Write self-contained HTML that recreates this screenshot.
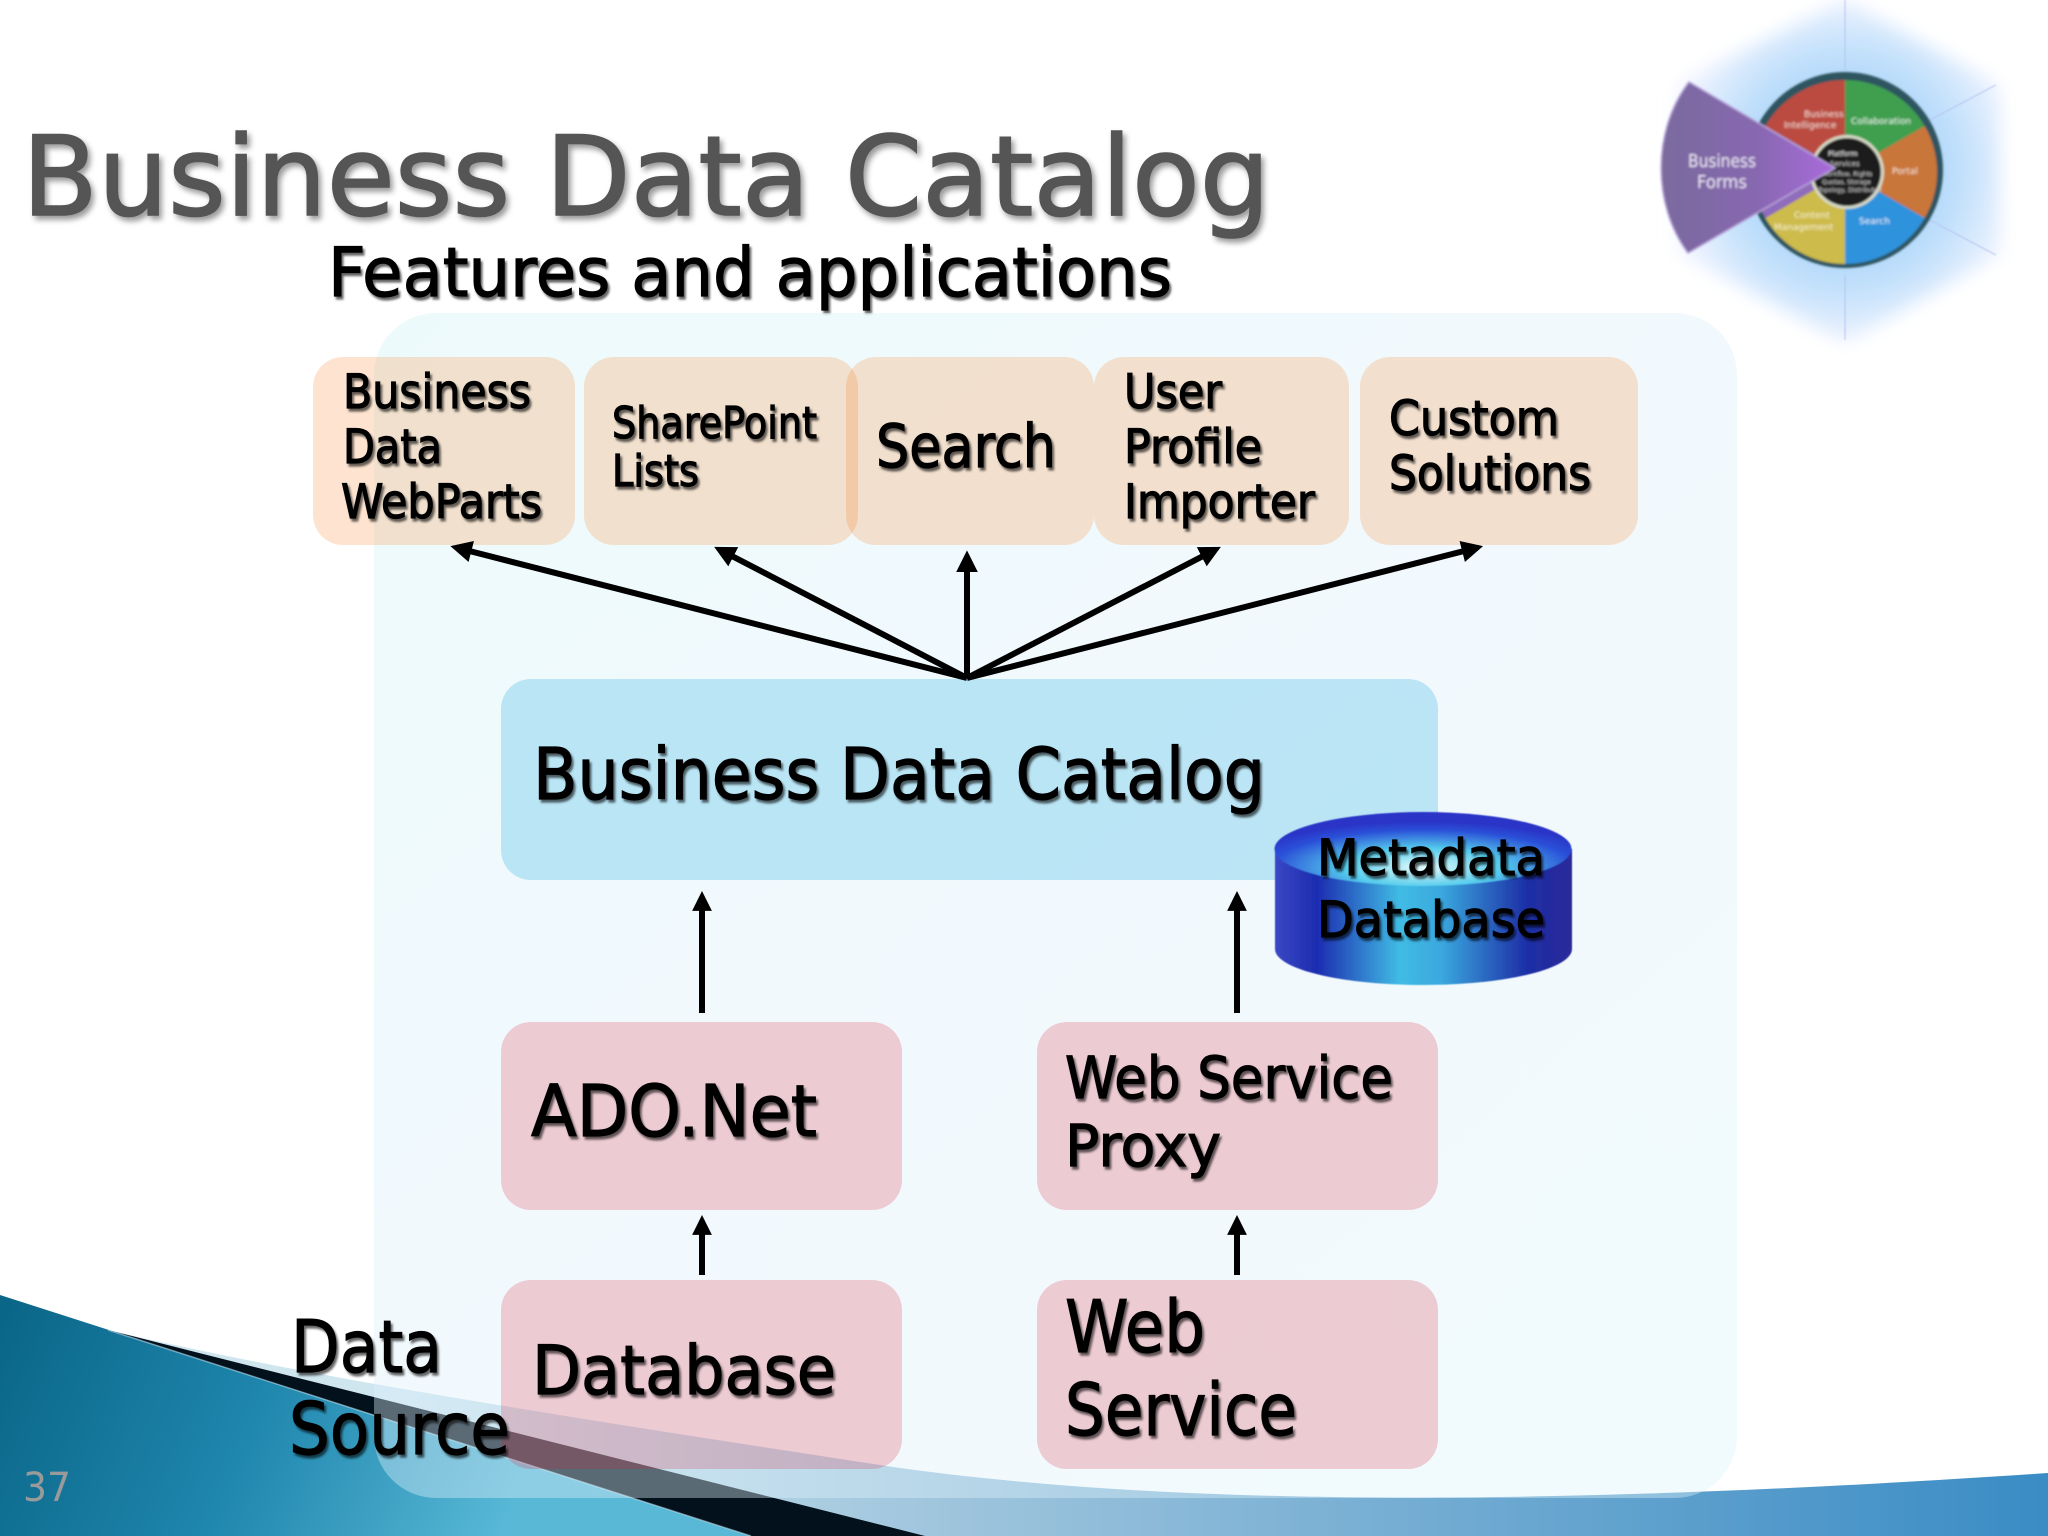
<!DOCTYPE html>
<html><head><meta charset="utf-8"><title>Business Data Catalog</title>
<style>
html,body{margin:0;padding:0;background:#fff;width:2048px;height:1536px;overflow:hidden}
svg{display:block}
text{font-family:"DejaVu Sans","Liberation Sans",sans-serif}
.t text{fill:#000;stroke:#000;stroke-width:1.2}
.t{filter:drop-shadow(2px 3px 1px rgba(0,0,0,.6))}
</style></head><body>
<svg width="2048" height="1536" viewBox="0 0 2048 1536" xmlns="http://www.w3.org/2000/svg">
<defs>
<linearGradient id="teal" gradientUnits="userSpaceOnUse" x1="0" y1="1320" x2="500" y2="1536"><stop offset="0" stop-color="#0a6688"/><stop offset=".5" stop-color="#1f86ad"/><stop offset="1" stop-color="#58b8d6"/></linearGradient>
<linearGradient id="sw" gradientUnits="userSpaceOnUse" x1="400" y1="0" x2="2048" y2="0"><stop offset="0" stop-color="#cfe6ef"/><stop offset=".35" stop-color="#9cc3dc"/><stop offset="1" stop-color="#3a8cc5"/></linearGradient>
<linearGradient id="panel" x1="0" y1="0" x2="1" y2="1"><stop offset="0" stop-color="#d2f2f7"/><stop offset=".5" stop-color="#def0fb"/><stop offset="1" stop-color="#dcf2f8"/></linearGradient>
<linearGradient id="cyl" x1="0" y1="0" x2="1" y2="0"><stop offset="0" stop-color="#3a48c4"/><stop offset=".14" stop-color="#1c2cb0"/><stop offset=".42" stop-color="#40bce4"/><stop offset=".56" stop-color="#3aa8de"/><stop offset=".85" stop-color="#1d2ea6"/><stop offset="1" stop-color="#2a2a98"/></linearGradient>
<radialGradient id="cyt" cx=".5" cy=".75" r=".62"><stop offset="0" stop-color="#e6fbfc"/><stop offset=".42" stop-color="#55ccec"/><stop offset=".82" stop-color="#2a50d8"/><stop offset="1" stop-color="#2a35c8"/></radialGradient>
<radialGradient id="glow" gradientUnits="userSpaceOnUse" cx="1845" cy="170" r="185"><stop offset="0" stop-color="#8fcbfa"/><stop offset=".6" stop-color="#bddefb"/><stop offset="1" stop-color="#f6f6ff"/></radialGradient>
<linearGradient id="pur" x1="0" y1="0" x2="1" y2="0"><stop offset="0" stop-color="#7a6a9e"/><stop offset=".55" stop-color="#8768b0"/><stop offset="1" stop-color="#a96cdc"/></linearGradient>
<filter id="b6" x="-20%" y="-20%" width="140%" height="140%"><feGaussianBlur stdDeviation="9"/></filter>
<filter id="b1" x="-10%" y="-10%" width="120%" height="120%"><feGaussianBlur stdDeviation="1.1"/></filter>
<filter id="b05"><feGaussianBlur stdDeviation=".5"/></filter>
<marker id="a" viewBox="0 -10 20 20" refX="5" refY="0" markerWidth="24" markerHeight="24" markerUnits="userSpaceOnUse" orient="auto"><path d="M0 -9L18 0L0 9z" fill="#000"/></marker>
<marker id="a2" viewBox="0 -10 20 20" refX="3.5" refY="0" markerWidth="22" markerHeight="22" markerUnits="userSpaceOnUse" orient="auto"><path d="M0 -9L18 0L0 9z" fill="#000"/></marker>
</defs>

<!-- bottom swoosh -->
<path d="M108 1330C300 1375 520 1410 893 1467C1150 1503 1500 1510 2048 1473V1536H108z" fill="url(#sw)"/>
<path d="M108 1330L925 1536H746z" fill="#03111c"/>
<path d="M0 1295L751 1536H0z" fill="url(#teal)"/>
<path d="M108 1330L751 1536" stroke="#cde6ef" stroke-width="1.5" opacity=".5" fill="none"/>

<!-- logo -->
<path d="M1845 0L2000 85V255L1845 343L1678 253V83z" fill="url(#glow)" filter="url(#b6)"/>
<g stroke="#b7c4f2" stroke-width="1.5" opacity=".7" filter="url(#b05)">
<path d="M1845 0V70M1845 275V340M1926 122L1996 85M1926 218L1996 255" fill="none"/>
</g>
<g filter="url(#b1)" transform="translate(-4 0)">
<circle cx="1849" cy="170" r="98" fill="#2f5560"/>
<path d="M1849 172V80A92 92 0 0 1 1928.7 126z" fill="#3f9f50"/>
<path d="M1849 172L1928.7 126A92 92 0 0 1 1928.7 218z" fill="#c9763a"/>
<path d="M1849 172L1928.7 218A92 92 0 0 1 1849 264z" fill="#2f93dc"/>
<path d="M1849 172V264A92 92 0 0 1 1769.3 218z" fill="#cdbb4c"/>
<path d="M1849 172L1769.3 218A92 92 0 0 1 1769.3 126z" fill="#8f6cbc"/>
<path d="M1849 172L1769.3 126A92 92 0 0 1 1849 80z" fill="#bb4b3f"/>
<circle cx="1851" cy="172" r="37" fill="#d8dcc8"/>
<circle cx="1851" cy="172" r="34" fill="#1c1c1c"/>
<text x="1808" y="117" font-size="9" fill="#f0d8d0">Business</text>
<text x="1788" y="128" font-size="9" fill="#f0d8d0">Intelligence</text>
<text x="1855" y="124" font-size="9" fill="#e4f4e8">Collaboration</text>
<text x="1896" y="174" font-size="9" fill="#f6e2d0">Portal</text>
<text x="1863" y="224" font-size="9" fill="#e0f0fc">Search</text>
<text x="1798" y="218" font-size="9" fill="#f6f0c8">Content</text>
<text x="1778" y="230" font-size="9" fill="#f6f0c8">Management</text>
<text x="1832" y="156" font-size="7" fill="#eee">Platform</text>
<text x="1834" y="166" font-size="7" fill="#ccc">Services</text>
<text x="1826" y="176" font-size="6" fill="#ccc">Workflow, Rights</text>
<text x="1826" y="184" font-size="6" fill="#ccc">Quotas, Storage</text>
<text x="1822" y="192" font-size="6" fill="#ccc">Topology, Distributed</text>
<path d="M1839 168L1693 82C1656 130 1656 205 1692 253z" fill="url(#pur)" stroke="#b8a5d8" stroke-width="1.5"/>
<text x="1692" y="167" font-size="18" fill="#e8e4f2" textLength="68" lengthAdjust="spacingAndGlyphs">Business</text>
<text x="1701" y="188" font-size="18" fill="#e8e4f2" textLength="50" lengthAdjust="spacingAndGlyphs">Forms</text>
</g>

<!-- title -->
<g style="filter:drop-shadow(3px 4px 3px rgba(0,0,0,.4))">
<text x="22" y="215" font-size="111" fill="#555" stroke="#555" stroke-width="1.6" textLength="1248" lengthAdjust="spacingAndGlyphs">Business Data Catalog</text>
</g>
<g class="t"><text x="328" y="296" font-size="68" textLength="844" lengthAdjust="spacingAndGlyphs">Features and applications</text></g>

<!-- panel -->
<rect x="374" y="313" width="1363" height="1185" rx="62" fill="url(#panel)" opacity=".4"/>

<!-- top boxes -->
<g fill="rgb(248,120,19)" fill-opacity=".2">
<rect x="313" y="357" width="262" height="188" rx="30"/>
<rect x="584" y="357" width="274" height="188" rx="30"/>
<rect x="846" y="357" width="248" height="188" rx="30"/>
<rect x="1094" y="357" width="255" height="188" rx="30"/>
<rect x="1360" y="357" width="278" height="188" rx="30"/>
</g>
<rect x="501" y="679" width="937" height="201" rx="30" fill="rgb(60,183,228)" fill-opacity=".3"/>
<g fill="rgb(222,20,44)" fill-opacity=".2">
<rect x="501" y="1022" width="401" height="188" rx="30"/>
<rect x="1037" y="1022" width="401" height="188" rx="30"/>
<rect x="501" y="1280" width="401" height="189" rx="30"/>
<rect x="1037" y="1280" width="401" height="189" rx="30"/>
</g>

<!-- arrows -->
<g stroke="#000" stroke-width="6" fill="none">
<path d="M967 678L465.5 550" marker-end="url(#a)"/>
<path d="M967 678L728 554" marker-end="url(#a)"/>
<path d="M967 678V566" marker-end="url(#a)"/>
<path d="M967 678L1207 554" marker-end="url(#a)"/>
<path d="M967 678L1468 550" marker-end="url(#a)"/>
<path d="M702 1013V907" marker-end="url(#a2)"/>
<path d="M1237 1013V907" marker-end="url(#a2)"/>
<path d="M702 1275V1231" marker-end="url(#a2)"/>
<path d="M1237 1275V1231" marker-end="url(#a2)"/>
</g>

<!-- cylinder -->
<g filter="url(#b05)">
<path d="M1275 849V949C1275 969 1341 985 1423 985S1572 969 1572 949V849z" fill="url(#cyl)"/>
<ellipse cx="1423" cy="849" rx="148.500" ry="37" fill="url(#cyt)"/>
</g>

<!-- labels -->
<g class="t" transform="translate(-2 -2)">
<text x="345" y="410" font-size="47" textLength="188" lengthAdjust="spacingAndGlyphs">Business</text>
<text x="345" y="465" font-size="47" textLength="99" lengthAdjust="spacingAndGlyphs">Data</text>
<text x="343" y="520" font-size="47" textLength="201" lengthAdjust="spacingAndGlyphs">WebParts</text>
<text x="614" y="440" font-size="44" textLength="205" lengthAdjust="spacingAndGlyphs">SharePoint</text>
<text x="614" y="488" font-size="44" textLength="87" lengthAdjust="spacingAndGlyphs">Lists</text>
<text x="878" y="469" font-size="60" textLength="180" lengthAdjust="spacingAndGlyphs">Search</text>
<text x="1126" y="410" font-size="47" textLength="98" lengthAdjust="spacingAndGlyphs">User</text>
<text x="1126" y="465" font-size="47" textLength="138" lengthAdjust="spacingAndGlyphs">Profile</text>
<text x="1126" y="520" font-size="47" textLength="191" lengthAdjust="spacingAndGlyphs">Importer</text>
<text x="1391" y="437" font-size="48" textLength="170" lengthAdjust="spacingAndGlyphs">Custom</text>
<text x="1391" y="492" font-size="48" textLength="202" lengthAdjust="spacingAndGlyphs">Solutions</text>
<text x="535" y="801" font-size="71" textLength="732" lengthAdjust="spacingAndGlyphs">Business Data Catalog</text>
<text x="1319" y="877" font-size="50" textLength="228" lengthAdjust="spacingAndGlyphs">Metadata</text>
<text x="1319" y="939" font-size="50" textLength="228" lengthAdjust="spacingAndGlyphs">Database</text>
<text x="533" y="1138" font-size="71" textLength="286" lengthAdjust="spacingAndGlyphs">ADO.Net</text>
<text x="1067" y="1100" font-size="58" textLength="328" lengthAdjust="spacingAndGlyphs">Web Service</text>
<text x="1067" y="1168" font-size="58" textLength="156" lengthAdjust="spacingAndGlyphs">Proxy</text>
<text x="534" y="1396" font-size="68" textLength="304" lengthAdjust="spacingAndGlyphs">Database</text>
<text x="1067" y="1354" font-size="72" textLength="140" lengthAdjust="spacingAndGlyphs">Web</text>
<text x="1067" y="1437" font-size="72" textLength="232" lengthAdjust="spacingAndGlyphs">Service</text>
<text x="293" y="1374" font-size="72" textLength="151" lengthAdjust="spacingAndGlyphs">Data</text>
<text x="291" y="1456" font-size="72" textLength="221" lengthAdjust="spacingAndGlyphs">Source</text>
</g>
<text x="23" y="1501" font-size="40" fill="#9a9a9a" textLength="48" lengthAdjust="spacingAndGlyphs">37</text>
</svg>
</body></html>
